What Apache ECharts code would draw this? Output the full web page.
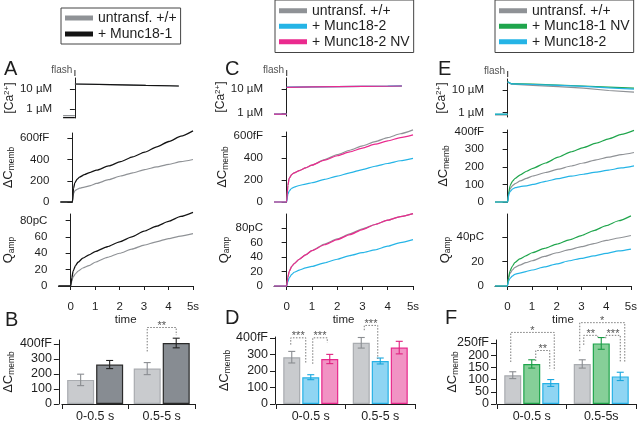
<!DOCTYPE html>
<html><head><meta charset="utf-8">
<script src="https://cdn.jsdelivr.net/npm/echarts@6/dist/echarts.min.js"></script>
<style>html,body{margin:0;padding:0;background:#fff}#c{width:640px;height:423px}</style>
</head><body><div id="c"></div>
<script>
// ---------- DATA ----------
const tTrace = [-0.5, 0, 0.05, 0.1, 0.2, 0.3, 0.5, 0.75, 1, 1.5, 2, 2.5, 3, 3.5, 4, 4.5, 5];
// Panel A (fF, pC)
const capA_ctrl = [0,0,80,105,120,130,140,155,175,210,245,275,305,330,355,380,400];
const capA_m181 = [0,0,130,180,215,235,258,280,300,340,380,425,470,520,570,620,670];
const qA_ctrl   = [0,0,6,11,15,18,22,25,29,35,40,45,50,54,58,61,64];
const qA_m181   = [0,0,10,18,25,29,34,38,42,48,54,60,67,73,79,85,90];
// Panel C
const capC_ctrl   = [0,0,150,215,250,265,285,310,335,385,430,470,510,548,585,620,655];
const capC_m182   = [0,0,70,100,125,135,150,163,175,205,235,265,295,325,350,375,397];
const capC_m182nv = [0,0,150,215,250,265,285,310,335,380,420,455,490,525,555,585,610];
const qC_ctrl     = [0,0,12,20,27,31,37,43,49,58,65,72,79,85,91,96,100];
const qC_m182     = [0,0,6,11,16,19,22,25,27,32,37,42,46,50,55,60,64];
const qC_m182nv   = [0,0,12,20,27,31,37,43,49,57,64,71,78,85,91,96,100];
// Panel E
const capE_ctrl   = [0,0,50,75,95,105,120,135,148,168,187,205,222,240,255,270,282];
const capE_m181nv = [0,0,60,95,120,135,155,175,192,222,255,285,310,335,360,385,408];
const capE_m182   = [0,0,45,60,75,82,88,92,100,118,133,147,158,170,182,194,206];
const qE_ctrl     = [0,0,6,10,13,15,17,19,20.5,24,27,29.5,32,34.5,37,39,41];
const qE_m181nv   = [0,0,7,12,16,19,22,24.5,27,30.5,34,37.5,41,45,49,53,57];
const qE_m182     = [0,0,4,6,8,9.5,10.5,11.7,13,15.5,18,20.5,22.5,24.5,26.5,28.5,30];
// Ca2+ (µM)
const caPreT = [-0.5, 0];
const caA_t = [0, 1, 2, 3, 4, 4.4];
const caA_ctrl_pre = [0.47, 0.47], caA_ctrl_post = [17.6, 16.8, 16.0, 15.1, 14.4, 14.0];
const caA_m181_pre = [0.37, 0.37], caA_m181_post = [17.8, 17.0, 16.1, 15.2, 14.5, 14.1];
const caC_t = [0, 1, 2, 3, 4, 4.56];
const caC_ctrl_pre = [0.93, 0.93], caC_ctrl_post = [12.1, 12.5, 12.8, 13.1, 13.4, 13.6];
const caC_m182_pre = [0.93, 0.93], caC_m182_post = [12.3, 12.7, 13.0, 13.3, 13.6, 13.9];
const caC_m182nv_pre = [0.92, 0.92], caC_m182nv_post = [12.1, 12.5, 12.8, 13.1, 13.4, 13.7];
const caE_t = [0, 0.15, 1, 2, 3, 4, 5];
const caE_ctrl_pre = [0.80, 0.80], caE_ctrl_post = [22, 18, 16, 14, 12, 9.5, 8];
const caE_m181nv_pre = [0.85, 0.85], caE_m181nv_post = [23, 19, 18, 16.5, 15, 13.5, 12];
const caE_m182_pre = [0.87, 0.87], caE_m182_post = [23, 18.5, 17.5, 16, 14.5, 12.5, 11];
const flashT = [0];
// Time axis ticks
const timeTicks = [0, 1, 2, 3, 4, 5];
// Bars (fF, mean and SEM)
const barCats  = ['0-0.5 s', '0.5-5 s'];
const barCatsF = ['0-0.5 s', '0.5-5s'];
const barB_ctrl = [160, 235], errB_ctrl = [38, 40];
const barB_m181 = [262, 405], errB_m181 = [27, 32];
const barD_ctrl = [283, 370], errD_ctrl = [35, 32];
const barD_m182 = [162, 260], errD_m182 = [15, 18];
const barD_m182nv = [272, 341], errD_m182nv = [28, 38];
const barF_ctrl = [118, 164], errF_ctrl = [14, 17];
const barF_m181nv = [164, 248], errF_m181nv = [17, 24];
const barF_m182 = [86, 113], errF_m182 = [14, 17];
const ticksF_even = [0, 100, 200], ticksF_odd = [50, 150, 250];
// Significance brackets: [category, leftBar, rightBar, topValue, leftEndValue, rightEndValue, label]
const sigB = [[1, 0, 1, 508, 349, 457, '**']];
const sigD = [[0, 0, 1, 400, 359, 243, '***'], [0, 1, 2, 400, 243, 371, '***'], [1, 0, 1, 475, 446, 272, '***']];
const sigF = [[0, 0, 2, 293, 172, 137, '*'], [0, 1, 2, 219, 176, 145, '**'], [1, 0, 2, 333, 216, 171, '*'], [1, 0, 1, 281, 242, 275, '**'], [1, 1, 2, 281, 269, 171, '***']];

// ---------- STYLE / LAYOUT ----------
const FONT = 'Liberation Sans, Arial, sans-serif';
const INK = '#1e1e1e';
const C = {gray:'#8f9296', black:'#141414', blue:'#25b4e6', pink:'#ea2a8e', green:'#1fa54c'};
const N = {ctrl:'untransf. +/+', m181:'+ Munc18-1', m182:'+ Munc18-2', m182nv:'+ Munc18-2 NV', m181nv:'+ Munc18-1 NV'};
// bracket leg pixel nudges (layout only)
const legB = [[0, 0]];
const legD = [[-1, -5], [2, -2.5], [3, -2.5]];
const legF = [[-2, 3.5], [4, -1], [-2.5, 4.5], [1.5, -3.5], [4.5, 0]];

const grids = [
  {left:54, top:78, width:139, height:40},   // 0 A Ca
  {left:54, top:133, width:139, height:69},  // 1 A Cm
  {left:54, top:214, width:139, height:72},  // 2 A Q
  {left:274, top:78, width:139, height:38},  // 3 C Ca
  {left:274, top:132, width:139, height:70}, // 4 C Cm
  {left:274, top:214, width:139, height:72}, // 5 C Q
  {left:495, top:79, width:139, height:38},  // 6 E Ca
  {left:495, top:130, width:139, height:72}, // 7 E Cm
  {left:495, top:214, width:139, height:72}, // 8 E Q
  {left:57, top:340, width:138, height:67},  // 9 B
  {left:276, top:337, width:139, height:70}, // 10 D
  {left:497, top:340, width:139, height:67}  // 11 F
];

const axLine = {show:true, lineStyle:{color:INK, width:1}};
const axTick = (len) => ({show:true, length:len, lineStyle:{color:INK, width:1}});

function xTrace(g, show) {
  const ax = {type:'value', gridIndex:g, min:-0.5, max:5, show:show, splitLine:{show:false}};
  if (show) {
    ax.axisLine = axLine;
    ax.axisTick = Object.assign(axTick(4), {customValues: timeTicks});
    ax.axisLabel = {customValues: timeTicks, margin:15, fontSize:11.5, fontFamily:FONT, color:INK,
      showMinLabel:true, showMaxLabel:true, hideOverlap:false,
      formatter: v => v === 5 ? '5s' : String(v)};
    ax.name = 'time'; ax.nameLocation = 'middle'; ax.nameGap = 17;
    ax.nameTextStyle = {fontSize:11.5, fontFamily:FONT, color:INK};
  }
  return ax;
}
const richCm = {d:{fontSize:13, fontFamily:FONT, color:INK, lineHeight:14, verticalAlign:'top'},
  s:{fontSize:8.5, fontFamily:FONT, color:INK, lineHeight:9, verticalAlign:'bottom', padding:[6,0,0,0]}};
const richCa = {t:{fontSize:12, fontFamily:FONT, color:INK, lineHeight:13, verticalAlign:'bottom', padding:[3,0,0,0]},
  u:{fontSize:8, fontFamily:FONT, color:INK, lineHeight:9, verticalAlign:'top'}};

function yAx(g, min, max, ticks, unitFmt, name, rich, gap, extra) {
  return Object.assign({type:'value', gridIndex:g, min:min, max:max, splitLine:{show:false},
    axisLine:axLine, axisTick:Object.assign(axTick(5), {customValues:ticks}),
    axisLabel:{customValues:ticks, margin:11, fontSize:11.5, fontFamily:FONT, color:INK, formatter:unitFmt,
      showMinLabel:true, showMaxLabel:true, hideOverlap:false},
    name:name, nameLocation:'middle', nameRotate:90, nameGap:gap,
    nameTextStyle:{rich:rich}}, extra || {});
}
const fmtTop = (top, unit) => v => v === top ? v + unit : String(v);
const fmtCa = v => (Math.round(Math.pow(10, v))) + ' µM';
const nameCm = '{d|ΔC}{s|memb}', nameQ = '{d|Q}{s|amp}', nameCa = '{t|[Ca}{u|2+}{t|]}';

const xAxes = [], yAxes = [];
// A
xAxes.push(xTrace(0,false), xTrace(1,false), xTrace(2,true));
yAxes.push(yAx(0, -0.45, 1.55, [0,1], fmtCa, nameCa, richCa, 39));
yAxes.push(yAx(1, 0, 650, [0,200,400,600], fmtTop(600,'fF'), nameCm, richCm, 36));
yAxes.push(yAx(2, 0, 88, [0,20,40,60,80], fmtTop(80,'pC'), nameQ, richCm, 37));
// C
xAxes.push(xTrace(3,false), xTrace(4,false), xTrace(5,true));
yAxes.push(yAx(3, -0.113, 1.47, [0,1], fmtCa, nameCa, richCa, 44));
yAxes.push(yAx(4, 0, 636, [0,200,400,600], fmtTop(600,'fF'), nameCm, richCm, 37));
yAxes.push(yAx(5, 0, 99.5, [0,20,40,60,80], fmtTop(80,'pC'), nameQ, richCm, 37));
// E
xAxes.push(xTrace(6,false), xTrace(7,false), xTrace(8,true));
yAxes.push(yAx(6, -0.189, 1.485, [0,1], fmtCa, nameCa, richCa, 45));
yAxes.push(yAx(7, 0, 410, [0,100,200,300,400], fmtTop(400,'fF'), nameCm, richCm, 37));
yAxes.push(yAx(8, 0, 58.5, [0,20,40], fmtTop(40,'pC'), nameQ, richCm, 37));
// Bars
function xBar(g, cats) {
  return {type:'category', gridIndex:g, data:cats, offset:3, axisLine:axLine, axisTick:axTick(5),
    axisLabel:{margin:3, fontSize:12.5, fontFamily:FONT, color:INK, interval:0}, splitLine:{show:false}};
}
xAxes.push(xBar(9, barCats), xBar(10, barCats), xBar(11, barCatsF));
yAxes.push(yAx(9, 0, 425, [0,100,200,300,400], fmtTop(400,'fF'), nameCm, richCm, 37, {offset:3}));
yAxes.push(yAx(10, 0, 405, [0,100,200,300,400], fmtTop(400,'fF'), nameCm, richCm, 37, {offset:1}));
// F: labels split over two coincident axes so none is dropped for crowding
yAxes.push(yAx(11, 0, 262, ticksF_even.concat(ticksF_odd), fmtTop(250,'fF'), nameCm, richCm, 36, {offset:1}));
yAxes[11].axisLabel.customValues = ticksF_even;
yAxes.push(yAx(11, 0, 262, ticksF_odd, fmtTop(250,'fF'), '', richCm, 36,
  {offset:1, position:'left', axisLine:{show:false}, axisTick:{show:false}}));
[9,10,11,12].forEach(i => { yAxes[i].axisLabel.fontSize = 12.5; yAxes[i].axisLabel.margin = 7; });

// ---------- SERIES ----------
const series = [];
function trace(g, name, color, t, vals, w) {
  series.push({type:'line', name:name, xAxisIndex:g, yAxisIndex:g, data:t.map((x,k)=>[x, vals[k]]),
    symbol:'none', showSymbol:false, smooth:0.2, smoothMonotone:'x', clip:false, silent:true,
    lineStyle:{color:color, width:w || 1.2}, itemStyle:{color:color}});
}
function caTrace(g, name, color, pre, postT, post) {
  const d = caPreT.map((x,k)=>[x, Math.log10(pre[k])]).concat([[0, '-']]).concat(postT.map((x,k)=>[x, Math.log10(post[k])]));
  series.push({type:'line', name:name, xAxisIndex:g, yAxisIndex:g, data:d, symbol:'none', showSymbol:false,
    connectNulls:false, clip:false, silent:true, lineStyle:{color:color, width:1.2}, itemStyle:{color:color}});
}
function flash(g, top) {
  series.push({type:'scatter', xAxisIndex:g, yAxisIndex:g, data:flashT.map(x=>[x, top]), symbol:'rect',
    symbolSize:[1.2,6], symbolOffset:[0,-5], clip:false, silent:true, itemStyle:{color:INK},
    label:{show:true, formatter:'flash', position:'left', distance:2, offset:[0,-3], fontSize:10, fontFamily:FONT, color:INK}});
}
// A
caTrace(0, N.ctrl, C.gray, caA_ctrl_pre, caA_t, caA_ctrl_post);
caTrace(0, N.m181, C.black, caA_m181_pre, caA_t, caA_m181_post);
flash(0, 1.55);
trace(1, N.ctrl, C.gray, tTrace, capA_ctrl); trace(1, N.m181, C.black, tTrace, capA_m181, 1.3);
trace(2, N.ctrl, C.gray, tTrace, qA_ctrl); trace(2, N.m181, C.black, tTrace, qA_m181, 1.3);
// C
caTrace(3, N.ctrl, C.gray, caC_ctrl_pre, caC_t, caC_ctrl_post);
caTrace(3, N.m182, C.blue, caC_m182_pre, caC_t, caC_m182_post);
caTrace(3, N.m182nv, C.pink, caC_m182nv_pre, caC_t, caC_m182nv_post);
flash(3, 1.47);
trace(4, N.ctrl, C.gray, tTrace, capC_ctrl); trace(4, N.m182, C.blue, tTrace, capC_m182); trace(4, N.m182nv, C.pink, tTrace, capC_m182nv);
trace(5, N.ctrl, C.gray, tTrace, qC_ctrl); trace(5, N.m182, C.blue, tTrace, qC_m182); trace(5, N.m182nv, C.pink, tTrace, qC_m182nv);
// E
caTrace(6, N.ctrl, C.gray, caE_ctrl_pre, caE_t, caE_ctrl_post);
caTrace(6, N.m181nv, C.green, caE_m181nv_pre, caE_t, caE_m181nv_post);
caTrace(6, N.m182, C.blue, caE_m182_pre, caE_t, caE_m182_post);
flash(6, 1.485);
trace(7, N.ctrl, C.gray, tTrace, capE_ctrl); trace(7, N.m181nv, C.green, tTrace, capE_m181nv); trace(7, N.m182, C.blue, tTrace, capE_m182);
trace(8, N.ctrl, C.gray, tTrace, qE_ctrl); trace(8, N.m181nv, C.green, tTrace, qE_m181nv); trace(8, N.m182, C.blue, tTrace, qE_m182);

// Bars
function barOff(i, n, w, gap) { return (i - (n - 1) / 2) * (w + gap); }
function barGroup(g, groups, w, gap, sig, legs) {
  const n = groups.length;
  groups.forEach((s, i) => {
    series.push({type:'bar', name:'bar '+g+'-'+i, xAxisIndex:g, yAxisIndex:g, data:s.v, barWidth:w,
      barGap:(gap / w * 100) + '%', silent:true,
      itemStyle:{color:s.fill, borderColor:s.edge, borderWidth:1.2}});
  });
  groups.forEach((s, i) => {
    series.push({type:'custom', xAxisIndex:g, yAxisIndex:g, silent:true, z:5,
      data:s.v.map((m,k)=>[k, m, s.e[k]]), encode:{x:0, y:1},
      renderItem:(p, api) => {
        const k = api.value(0), m = api.value(1), e = api.value(2);
        const a = api.coord([k, m + e]), b = api.coord([k, m - e]);
        const x = a[0] + barOff(i, n, w, gap), hw = 3.5;
        const st = {stroke:s.err, lineWidth:1.1};
        return {type:'group', children:[
          {type:'line', shape:{x1:x, y1:a[1], x2:x, y2:b[1]}, style:st},
          {type:'line', shape:{x1:x-hw, y1:a[1], x2:x+hw, y2:a[1]}, style:st},
          {type:'line', shape:{x1:x-hw, y1:b[1], x2:x+hw, y2:b[1]}, style:st}]};
      }});
  });
  series.push({type:'custom', xAxisIndex:g, yAxisIndex:g, silent:true, z:6,
    data:sig.map(r=>[r[0], r[3]]), encode:{x:0, y:1},
    renderItem:(p, api) => {
      const r = sig[p.dataIndex], lg = legs[p.dataIndex];
      const c = api.coord([r[0], r[3]]);
      const x1 = c[0] + barOff(r[1], n, w, gap) + lg[0];
      const x2 = c[0] + barOff(r[2], n, w, gap) + lg[1];
      const yT = c[1], yL = api.coord([r[0], r[4]])[1], yR = api.coord([r[0], r[5]])[1];
      return {type:'group', children:[
        {type:'polyline', shape:{points:[[x1,yL],[x1,yT],[x2,yT],[x2,yR]]},
          style:{stroke:'#7a7a7a', lineWidth:1, lineDash:[1.5,1.5], fill:null}},
        {type:'text', style:{text:r[6], x:(x1+x2)/2, y:yT+4, align:'center', verticalAlign:'bottom',
          fontSize:11, fontFamily:FONT, fill:'#555'}}]};
    }});
}
const ctrlBar = (v,e) => ({v:v, e:e, fill:'#c9cbce', edge:'#a9acb0', err:'#8a8d91'});
barGroup(9, [ctrlBar(barB_ctrl, errB_ctrl), {v:barB_m181, e:errB_m181, fill:'#878c92', edge:'#2a2a2a', err:'#222'}], 27, 2, sigB, legB);
barGroup(10, [ctrlBar(barD_ctrl, errD_ctrl), {v:barD_m182, e:errD_m182, fill:'#8fd5f3', edge:'#27b2e6', err:'#19a6dc'},
  {v:barD_m182nv, e:errD_m182nv, fill:'#f193c4', edge:'#e8288c', err:'#e0207f'}], 17, 2, sigD, legD);
barGroup(11, [ctrlBar(barF_ctrl, errF_ctrl), {v:barF_m181nv, e:errF_m181nv, fill:'#86cf98', edge:'#1fa54c', err:'#1a9a44'},
  {v:barF_m182, e:errF_m182, fill:'#8fd5f3', edge:'#27b2e6', err:'#19a6dc'}], 17, 2, sigF, legF);

// ---------- LEGENDS / LETTERS ----------
function legend(left, top, names, lh, pad) {
  return {left:left, top:top, orient:'vertical', data:names, icon:'rect', itemWidth:28, itemHeight:5, itemGap:0,
    borderColor:'#444', borderWidth:1, padding:pad, selectedMode:false,
    textStyle:{fontSize:14, lineHeight:lh, fontFamily:FONT, color:INK}};
}
const letters = [['A',4,59],['B',5,310],['C',225,59],['D',225,308],['E',438,59],['F',445,308]];

const option = {
  animation:false, backgroundColor:'#fff',
  title: letters.map(l => ({text:l[0], left:l[1], top:l[2], padding:0,
    textStyle:{fontSize:20, fontWeight:'normal', fontFamily:FONT, color:INK}})),
  legend:[legend(61, 8, [N.ctrl, N.m181], 16, [2,4,2,4]),
          legend(275, 0, [N.ctrl, N.m182, N.m182nv], 15.5, [3,4,3,4]),
          legend(495, 0, [N.ctrl, N.m181nv, N.m182], 15.5, [3,4,3,4])],
  grid:grids, xAxis:xAxes, yAxis:yAxes, series:series
};
const chart = echarts.init(document.getElementById('c'), null, {renderer:'canvas'});
chart.setOption(option);
</script></body></html>
